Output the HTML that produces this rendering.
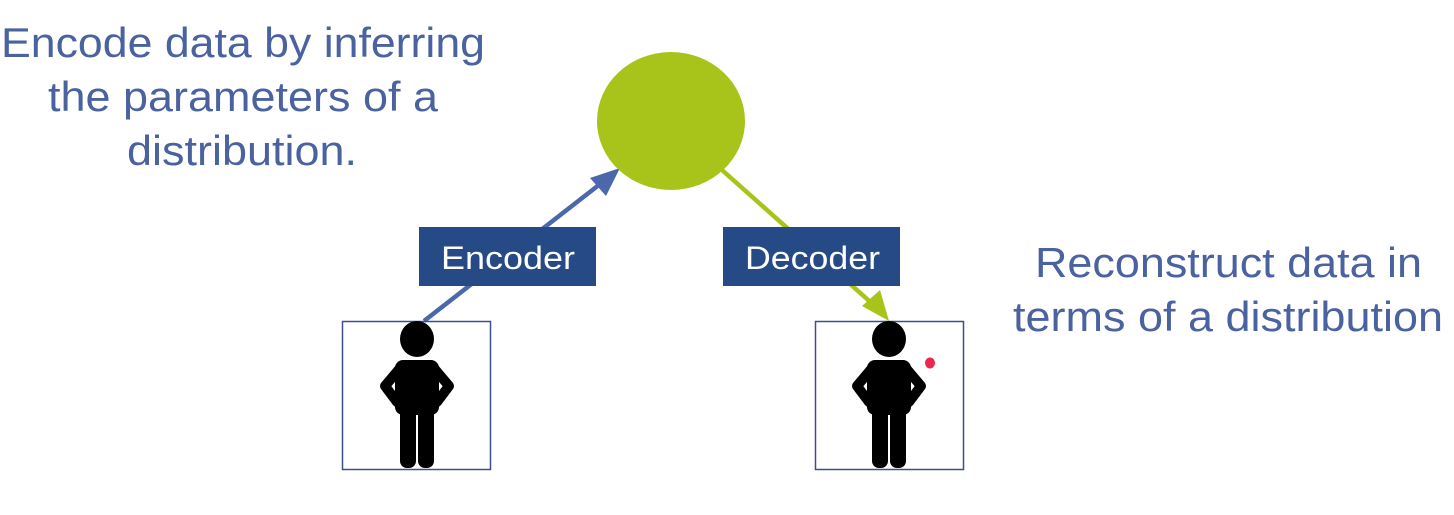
<!DOCTYPE html>
<html><head><meta charset="utf-8"><style>
html,body{margin:0;padding:0;background:#fff;}
svg{display:block;}
text{font-family:"Liberation Sans",Arial,sans-serif;}
</style></head><body>
<svg width="1454" height="515" viewBox="0 0 1454 515" xmlns="http://www.w3.org/2000/svg">
<rect width="1454" height="515" fill="#fff"/>
<g fill="#4a62a0" font-size="42" lengthAdjust="spacingAndGlyphs">
<text x="1" y="57" textLength="484" lengthAdjust="spacingAndGlyphs">Encode data by inferring</text>
<text x="48" y="111" textLength="390" lengthAdjust="spacingAndGlyphs">the parameters of a</text>
<text x="127" y="165" textLength="230" lengthAdjust="spacingAndGlyphs">distribution.</text>
<text x="1035" y="277" textLength="387" lengthAdjust="spacingAndGlyphs">Reconstruct data in</text>
<text x="1013" y="331" textLength="430" lengthAdjust="spacingAndGlyphs">terms of a distribution</text>
</g>
<!-- connectors -->
<line x1="424" y1="321" x2="604" y2="181" stroke="#4a68ab" stroke-width="4.5"/>
<polygon points="620,168 590,178 606,196" fill="#4a68ab"/>
<line x1="722" y1="170" x2="876" y2="307" stroke="#a8c41a" stroke-width="4.5"/>
<polygon points="889,321 862,306 880,290" fill="#a8c41a"/>
<ellipse cx="671" cy="121" rx="74" ry="69" fill="#a8c41a"/>
<!-- labels -->
<rect x="419" y="227" width="177" height="59" fill="#254a85"/>
<text x="441" y="269" font-size="32" fill="#fff" textLength="134" lengthAdjust="spacingAndGlyphs">Encoder</text>
<rect x="723" y="227" width="177" height="59" fill="#254a85"/>
<text x="745" y="269" font-size="32" fill="#fff" textLength="135" lengthAdjust="spacingAndGlyphs">Decoder</text>
<!-- boxes -->
<rect x="342.5" y="321.5" width="148" height="148" fill="none" stroke="#3d4f8a" stroke-width="1.5"/>
<rect x="815.5" y="321.5" width="148" height="148" fill="none" stroke="#3d4f8a" stroke-width="1.5"/>
<defs>
<g id="p">
<ellipse cx="0" cy="0" rx="17" ry="18"/>
<rect x="-22" y="21" width="44" height="55" rx="8"/>
<rect x="-17" y="60" width="16" height="69" rx="7"/>
<rect x="1" y="60" width="16" height="69" rx="7"/>
<polyline points="-16,28 -32,47 -20,63" fill="none" stroke="#000" stroke-width="10" stroke-linecap="round" stroke-linejoin="round"/>
<polyline points="16,28 32,47 20,63" fill="none" stroke="#000" stroke-width="10" stroke-linecap="round" stroke-linejoin="round"/>
</g>
</defs>
<use href="#p" x="417" y="339" fill="#000"/>
<use href="#p" x="889" y="339" fill="#000"/>
<ellipse cx="930" cy="363" rx="5" ry="5.5" fill="#e8294f"/>
</svg>
</body></html>
